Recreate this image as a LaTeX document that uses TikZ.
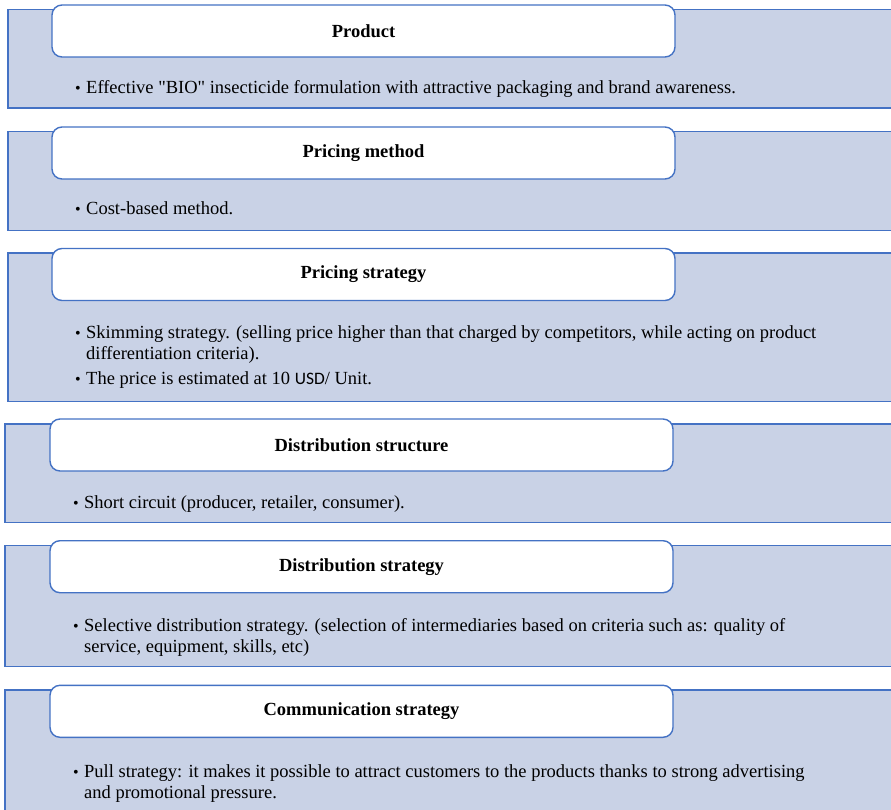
\documentclass[tikz,border=0pt]{standalone}
\usepackage{fontspec}
\setmainfont{Liberation Serif}
\newfontfamily\straightq{Liberation Serif}[Ligatures=ResetAll]
\newfontfamily\usdfont{Carlito}
\definecolor{panelfill}{HTML}{C9D2E6}
\definecolor{panelline}{HTML}{4472C4}
\tikzset{
  panel/.style={draw=panelline, fill=panelfill, line width=1.4pt},
  header/.style={draw=panelline, fill=white, line width=1.4pt, rounded corners=10pt,
    minimum width=623pt, minimum height=52pt, inner sep=0pt,
    font=\fontsize{18.5}{21}\selectfont\bfseries},
  bul/.style={anchor=base, inner sep=0pt, font=\fontsize{16}{20}\selectfont},
  body/.style={anchor=base west, inner sep=0pt,
    font=\fontsize{18.5}{21}\selectfont}
}
\begin{document}
\begin{tikzpicture}[x=1pt,y=-1pt]
\useasboundingbox (0,0) rectangle (891,810);
\clip (0,0) rectangle (891,810);
% panel 1
\draw[panel] (8,9.5) rectangle (900,108);
\node[header] (h1) at (363.5,31) {Product};
\node[bul] (b1) at (78,94) {\textbullet};
\node[body] (t1) at (86,94) {Effective {\straightq "}BIO{\straightq "} insecticide formulation with attractive packaging and brand awareness.};
% panel 2
\draw[panel] (8,131.7) rectangle (900,230.7);
\node[header] (h2) at (363.5,153) {Pricing method};
\node[bul] (b2) at (78,215) {\textbullet};
\node[body] (t2) at (86,215) {Cost-based method.};
% panel 3
\draw[panel] (8,253) rectangle (900,401.7);
\node[header] (h3) at (363.5,274.5) {Pricing strategy};
\node[bul] (b3) at (78,338.5) {\textbullet};
\node[body] (t3) at (86,338.5) {Skimming strategy. (selling price higher than that charged by competitors, while acting on product};
\node[body] (t3c) at (86,359.5) {differentiation criteria).};
\node[bul] (b3b) at (78,384) {\textbullet};
\node[body] (t3b) at (86,384) {The price is estimated at 10 {\usdfont\fontsize{17.5}{20}\selectfont USD}/ Unit.};
% panel 4
\draw[panel] (5,424) rectangle (900,522.7);
\node[header] (h4) at (361.5,445) {Distribution structure};
\node[bul] (b4) at (76,508) {\textbullet};
\node[body] (t4) at (84,508) {Short circuit (producer, retailer, consumer).};
% panel 5
\draw[panel] (5,545.7) rectangle (900,666.7);
\node[header] (h5) at (361.5,566.7) {Distribution strategy};
\node[bul] (b5) at (76,631.5) {\textbullet};
\node[body] (t5) at (84,631.5) {Selective distribution strategy. (selection of intermediaries based on criteria such as: quality of};
\node[body] (t5c) at (84,652.5) {service, equipment, skills, etc)};
% panel 6
\draw[panel] (5,690) rectangle (900,840);
\node[header] (h6) at (361.5,711.3) {Communication strategy};
\node[bul] (b6) at (76,777) {\textbullet};
\node[body] (t6) at (84,777) {Pull strategy: it makes it possible to attract customers to the products thanks to strong advertising};
\node[body] (t6c) at (84,798) {and promotional pressure.};
\end{tikzpicture}
\end{document}
